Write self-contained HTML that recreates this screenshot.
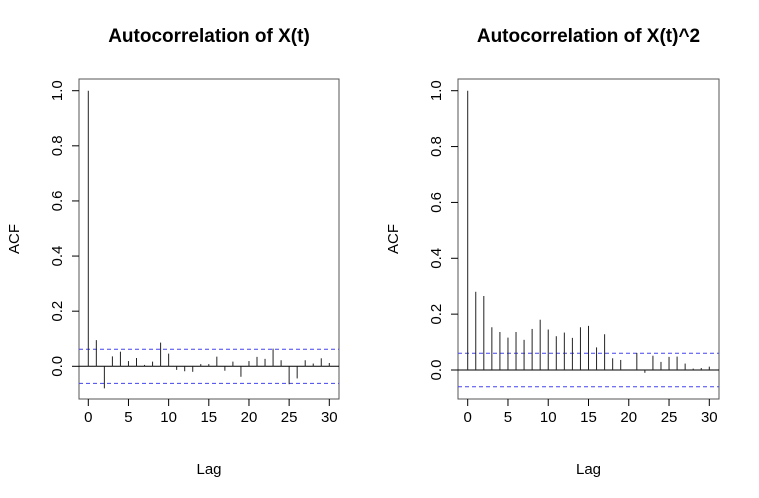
<!DOCTYPE html>
<html><head><meta charset="utf-8"><style>
body{margin:0;background:#fff}
svg{display:block;font-family:"Liberation Sans",Arial,sans-serif}
</style></head><body>
<svg id="c" width="759" height="498"></svg>
<script>
const lags=[...Array(31).keys()];
const acfX=[1,0.095,-0.08,0.036,0.053,0.019,0.03,0.005,0.017,0.086,0.046,-0.013,-0.018,-0.02,0.008,0.008,0.035,-0.016,0.017,-0.038,0.019,0.034,0.027,0.064,0.022,-0.065,-0.044,0.022,0.01,0.029,0.012];
const acfX2=[1,0.28,0.265,0.153,0.136,0.116,0.136,0.108,0.147,0.18,0.145,0.121,0.134,0.115,0.153,0.158,0.081,0.128,0.042,0.036,-0.002,0.061,-0.01,0.051,0.029,0.047,0.048,0.023,0.005,0.007,0.012];
const ciX=0.062, ciX2=0.06;
const yTicks=[0,0.2,0.4,0.6,0.8,1.0];
const yTickLabels=["0.0","0.2","0.4","0.6","0.8","1.0"];
const xTicks=[0,5,10,15,20,25,30];
const titles=["Autocorrelation of X(t)","Autocorrelation of X(t)^2"];
const NS="http://www.w3.org/2000/svg";
const svg=document.getElementById('c');
function mk(t,a,p){const e=document.createElementNS(NS,t);for(const k in a)e.setAttribute(k,a[k]);(p||svg).appendChild(e);return e;}
const panels=[
 {box:[79,79,339,399],x0:88.3,x1:329.3,y0:366.3,y1:90.7,vals:acfX,ci:ciX,name:'acf-xt'},
 {box:[458,79,719,399],x0:467.7,x1:709.3,y0:370,y1:90.7,vals:acfX2,ci:ciX2,name:'acf-xt2'}
];
panels.forEach((p,pi)=>{
 const g=mk('g',{});
 
 
 const sx=v=>p.x0+(p.x1-p.x0)*v/30;
 const sy=v=>p.y0+(p.y1-p.y0)*v;
 const [l,t,r,b]=p.box;
 const cx=(l+r)/2;
 const ti=mk('text',{x:cx,y:42,'text-anchor':'middle','font-size':19,'font-weight':'bold'},g);ti.textContent=titles[pi];
 
 const bx=mk('rect',{x:l,y:t,width:r-l,height:b-t,fill:'none',stroke:'#555','stroke-width':1},g);
 
 yTicks.forEach((v,i)=>{
  const y=sy(v);
  mk('line',{x1:l-7,x2:l,y1:y,y2:y,stroke:'#000'},g);
  const tx=mk('text',{x:l-17,y:y,'text-anchor':'middle','font-size':15,transform:`rotate(-90 ${l-17} ${y})`},g);
  tx.textContent=yTickLabels[i];
  
 });
 xTicks.forEach(v=>{
  const x=sx(v);
  mk('line',{x1:x,x2:x,y1:b,y2:b+7,stroke:'#000'},g);
  const tx=mk('text',{x:x,y:b+23,'text-anchor':'middle','font-size':15},g);tx.textContent=v;
  
 });
 const yl=mk('text',{x:l-60,y:(t+b)/2,'text-anchor':'middle','font-size':15,transform:`rotate(-90 ${l-60} ${(t+b)/2})`},g);yl.textContent='ACF';
 
 const xl=mk('text',{x:cx,y:474,'text-anchor':'middle','font-size':15},g);xl.textContent='Lag';
 
 const z=mk('line',{x1:l,x2:r,y1:sy(0),y2:sy(0),stroke:'#000'},g);
 
 [p.ci,-p.ci].forEach(c=>{
  const d=mk('line',{x1:l,x2:r,y1:sy(c),y2:sy(c),stroke:'#4444ee','stroke-dasharray':'4,3'},g);
  
 });
 lags.forEach((lag,i)=>{
  const x=sx(lag);
  const s=mk('line',{x1:x,x2:x,y1:sy(0),y2:sy(p.vals[i]),stroke:'#222','stroke-width':1},g);
  
  
 });
});
</script>
</body></html>
